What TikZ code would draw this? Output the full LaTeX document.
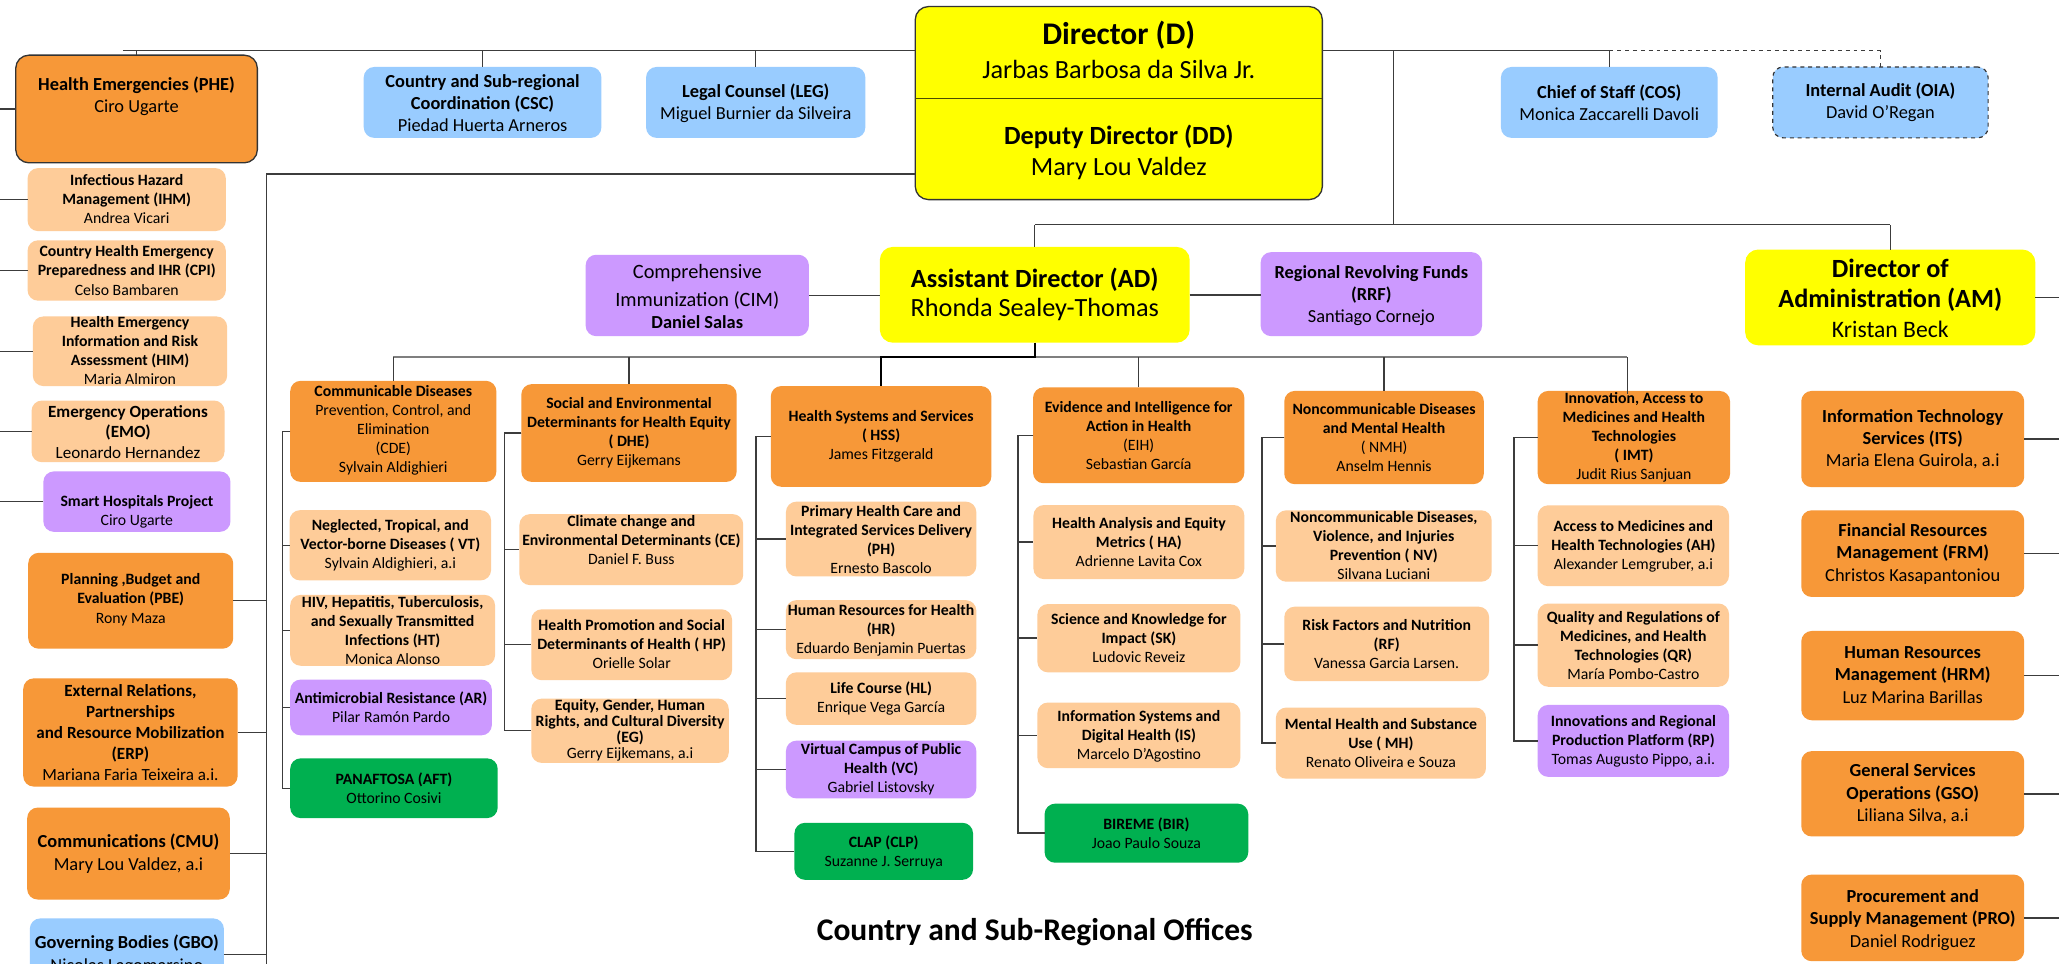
\documentclass[tikz,border=0pt]{standalone}
\usepackage{fontspec}
\setmainfont{Carlito}
\definecolor{orgO}{HTML}{F79838}
\definecolor{orgP}{HTML}{FECC99}
\definecolor{orgB}{HTML}{99CCFF}
\definecolor{orgV}{HTML}{CC99FF}
\definecolor{orgY}{HTML}{FFFF00}
\definecolor{orgG}{HTML}{00B050}
\definecolor{lineC}{HTML}{3C3C3C}
\definecolor{rowC}{HTML}{7F7F7F}
\tikzset{
  box/.style={rectangle, rounded corners=8pt, inner sep=0pt, outer sep=0pt},
  bO/.style={box, fill=orgO},
  bP/.style={box, fill=orgP},
  bB/.style={box, fill=orgB},
  bV/.style={box, fill=orgV},
  bY/.style={box, fill=orgY},
  bG/.style={box, fill=orgG},
  txt/.style={align=center, inner sep=0pt, outer sep=0pt, text=black},
  f12/.style={font=\fontsize{12}{14.5}\selectfont},
  f12t/.style={font=\fontsize{12}{12.2}\selectfont},
  f13/.style={font=\fontsize{13}{15.9}\selectfont},
  f14/.style={font=\fontsize{14}{17}\selectfont},
  ln/.style={draw=lineC, line width=1.1pt},
  rowln/.style={draw=rowC, line width=1.2pt},
  adln/.style={draw=black, line width=1.5pt},
}
% name, box style, font style, x1, y1, x2, y2, text y, text
\newcommand\obox[9]{%
  \pgfmathsetmacro\cxx{(#4+#6)/2}%
  \pgfmathsetmacro\cyy{(#5+#7)/2}%
  \pgfmathsetmacro\bww{#6-#4}%
  \pgfmathsetmacro\bhh{#7-#5}%
  \node[#2, minimum width=\bww pt, minimum height=\bhh pt] (#1) at (\cxx,\cyy) {};
  \node[txt,#3] (#1t) at (\cxx,#8) {#9};
}
\begin{document}
\begin{tikzpicture}[x=1pt,y=-1pt]
\useasboundingbox (0,0) rectangle (1568,734);
\clip (0,0) rectangle (1568,734);
\fill[white] (0,0) rectangle (1568,734);

% ---------- top level ----------
\obox{PHE}{bO,rounded corners=10pt,draw=black!80,line width=1pt}{f14}{12}{42}{196}{124}{73.5}{\textbf{Health Emergencies (PHE)}\\Ciro Ugarte}
\obox{CSC}{bB}{f14}{277}{51}{458}{105}{78.5}{\textbf{Country and Sub-regional}\\\textbf{Coordination (CSC)}\\Piedad Huerta Arneros}
\obox{LEG}{bB}{f14}{492}{51}{659}{105}{78.4}{\textbf{Legal Counsel (LEG)}\\Miguel Burnier da Silveira}
\obox{COS}{bB}{f14}{1143}{51}{1308}{105}{78}{\textbf{Chief of Staff (COS)}\\Monica Zaccarelli Davoli}
\obox{OIA}{bB,draw=black!80,dashed,line width=0.9pt}{f14}{1350}{51}{1514}{105}{78}{\textbf{Internal Audit (OIA)}\\David O’Regan}

\node[bY, rounded corners=10pt, draw=black!80, line width=1pt, minimum width=310pt, minimum height=147pt] (D) at (852,78.5) {};
\coordinate (DV) at (0,75);
\draw[draw=black!70!orgY, line width=1.2pt] (D.west |- DV) -- (D.east |- DV);
\node[txt, font=\fontsize{24}{29}\selectfont\bfseries] (Dt1) at (852,26.7) {Director (D)};
\node[txt, font=\fontsize{20}{24}\selectfont] (Dt2) at (852,53) {Jarbas Barbosa da Silva Jr.};
\node[txt, font=\fontsize{20}{24}\selectfont\bfseries] (Dt3) at (852,104) {Deputy Director (DD)};
\node[txt, font=\fontsize{20}{24}\selectfont] (Dt4) at (852,128) {Mary Lou Valdez};

% ---------- left column ----------
\obox{IHM}{bP}{f12}{21}{128}{172}{176}{151.5}{\textbf{Infectious Hazard}\\\textbf{Management (IHM)}\\Andrea Vicari}
\obox{CPI}{bP}{f12}{21}{183}{172}{229}{206}{\textbf{Country Health Emergency}\\\textbf{Preparedness and IHR (CPI)}\\Celso Bambaren}
\obox{HIM}{bP}{f12}{25}{241}{173}{294}{266.7}{\textbf{Health Emergency}\\\textbf{Information and Risk}\\\textbf{Assessment (HIM)}\\Maria Almiron}
\obox{EMO}{bP}{f13}{24}{305}{171}{352}{329}{\textbf{Emergency Operations}\\\textbf{(EMO)}\\Leonardo Hernandez}
\obox{SMH}{bV}{f12}{33}{359}{175.5}{405}{389.7}{\textbf{Smart Hospitals Project}\\Ciro Ugarte}
\obox{PBE}{bO}{f12}{21.5}{421}{177.6}{494}{456.7}{\textbf{Planning ,Budget and}\\\textbf{Evaluation (PBE)}\\Rony Maza}
\obox{ERP}{bO}{f13}{17.7}{516.6}{181}{599}{558}{\textbf{External Relations,}\\\textbf{Partnerships}\\\textbf{and Resource Mobilization}\\\textbf{(ERP)}\\Mariana Faria Teixeira a.i.}
\obox{CMU}{bO}{f14}{20.7}{615}{175}{685}{650}{\textbf{Communications (CMU)}\\Mary Lou Valdez, a.i}
\obox{GBO}{bB}{f14}{22.7}{699.4}{170.5}{754}{727}{\textbf{Governing Bodies (GBO)}\\Nicolas Lagomarsino}

% ---------- second level ----------
\obox{CIM}{bV}{f14}{446}{194}{616}{256}{226.5}{}
\node[txt, font=\fontsize{15.5}{19}\selectfont] (CIM1) at (531,208) {Comprehensive};
\node[txt, font=\fontsize{15.5}{19}\selectfont] (CIM2) at (531,228.5) {Immunization (CIM)};
\node[txt, font=\fontsize{14}{17}\selectfont\bfseries] (CIM3) at (531,245.5) {Daniel Salas};
\obox{AD}{bY,rounded corners=10pt}{f14}{670}{188}{906}{261}{224.5}{}
\node[txt, font=\fontsize{20}{24}\selectfont\bfseries] (AD1) at (788,212.8) {Assistant Director (AD)};
\node[txt, font=\fontsize{20}{24}\selectfont] (AD2) at (788,236) {Rhonda Sealey-Thomas};
\obox{RRF}{bV}{f14}{960}{192}{1128.6}{256}{225}{\textbf{Regional Revolving Funds}\\\textbf{(RRF)}\\Santiago Cornejo}
\obox{AM}{bY,rounded corners=10pt}{f14}{1329}{190}{1550}{263}{227.5}{}
\node[txt, font=\fontsize{20}{24}\selectfont\bfseries] (AM1) at (1439.5,204) {Director of};
\node[txt, font=\fontsize{20}{24}\selectfont\bfseries] (AM2) at (1439.5,228.5) {Administration (AM)};
\node[txt, font=\fontsize{18}{22}\selectfont] (AM3) at (1439.5,251) {Kristan Beck};

% ---------- CDE column ----------
\obox{CDE}{bO}{f12}{221}{290}{378}{367}{328}{\textbf{Communicable Diseases}\\Prevention, Control, and\\Elimination\\(CDE)\\Sylvain Aldighieri}
\obox{VT}{bP}{f12}{220.5}{388.5}{374}{442}{415.3}{\textbf{Neglected, Tropical, and}\\\textbf{Vector-borne Diseases ( VT)}\\Sylvain Aldighieri, a.i}
\obox{HT}{bP}{f12}{221}{453}{377}{507}{480}{\textbf{HIV, Hepatitis, Tuberculosis,}\\\textbf{and Sexually Transmitted}\\\textbf{Infections (HT)}\\Monica Alonso}
\obox{AR}{bV}{f12}{221}{517.5}{374.6}{560}{538.4}{\textbf{Antimicrobial Resistance (AR)}\\Pilar Ramón Pardo}
\obox{AFT}{bG}{f12}{221}{577.5}{379}{623}{600}{\textbf{PANAFTOSA (AFT)}\\Ottorino Cosivi}

% ---------- DHE column ----------
\obox{DHE}{bO}{f12}{397}{292.5}{561}{367}{329.3}{\textbf{Social and Environmental}\\\textbf{Determinants for Health Equity}\\\textbf{( DHE)}\\Gerry Eijkemans}
\obox{CE}{bP}{f12}{395.6}{391.5}{566}{445.6}{411}{\textbf{Climate change and}\\\textbf{Environmental Determinants (CE)}\\Daniel F. Buss}
\obox{HP}{bP}{f12}{404.6}{464}{557.5}{518}{490.5}{\textbf{Health Promotion and Social}\\\textbf{Determinants of Health ( HP)}\\Orielle Solar}
\obox{EG}{bP}{f12t}{404.6}{532}{555}{581}{556}{\textbf{Equity, Gender, Human}\\\textbf{Rights, and Cultural Diversity}\\\textbf{(EG)}\\Gerry Eijkemans, a.i}

% ---------- HSS column ----------
\obox{HSS}{bO}{f12}{587}{294}{755}{370.7}{332.3}{\textbf{Health Systems and Services}\\\textbf{( HSS)}\\James Fitzgerald}
\obox{PH}{bP}{f12}{598.5}{382}{743.5}{439}{410.7}{\textbf{Primary Health Care and}\\\textbf{Integrated Services Delivery}\\\textbf{(PH)}\\Ernesto Bascolo}
\obox{HR}{bP}{f12}{598.5}{457}{743.5}{502}{480}{\textbf{Human Resources for Health}\\\textbf{(HR)}\\Eduardo Benjamin Puertas}
\obox{HL}{bP}{f12}{598.5}{512}{743.5}{552}{532}{\textbf{Life Course (HL)}\\Enrique Vega García}
\obox{VC}{bV}{f12}{598.5}{564}{743.5}{608}{586}{\textbf{Virtual Campus of Public}\\\textbf{Health (VC)}\\Gabriel Listovsky}
\obox{CLP}{bG}{f12}{605}{626.6}{741}{670}{649}{\textbf{CLAP (CLP)}\\Suzanne J. Serruya}

% ---------- EIH column ----------
\obox{EIH}{bO}{f12}{786.7}{295}{947.6}{368}{331.7}{\textbf{Evidence and Intelligence for}\\\textbf{Action in Health}\\(EIH)\\Sebastian García}
\obox{HA}{bP}{f12}{787}{384.6}{947.6}{441}{413}{\textbf{Health Analysis and Equity}\\\textbf{Metrics ( HA)}\\Adrienne Lavita Cox}
\obox{SK}{bP}{f12}{790}{460}{944.6}{512}{486}{\textbf{Science and Knowledge for}\\\textbf{Impact (SK)}\\Ludovic Reveiz}
\obox{IS}{bP}{f12}{790}{535}{944.6}{585}{560.7}{\textbf{Information Systems and}\\\textbf{Digital Health (IS)}\\Marcelo D’Agostino}
\obox{BIR}{bG}{f12}{795.5}{612}{950.6}{657}{634.8}{\textbf{BIREME (BIR)}\\Joao Paulo Souza}

% ---------- NMH column ----------
\obox{NMH}{bO}{f12}{978}{297.7}{1130}{368.7}{332.9}{\textbf{Noncommunicable Diseases}\\\textbf{and Mental Health}\\( NMH)\\Anselm Hennis}
\obox{NV}{bP}{f12}{971.6}{388.6}{1136}{443}{415.6}{\textbf{Noncommunicable Diseases,}\\\textbf{Violence, and Injuries}\\\textbf{Prevention ( NV)}\\Silvana Luciani}
\obox{RF}{bP}{f12}{978}{462}{1134}{518.6}{490.7}{\textbf{Risk Factors and Nutrition}\\\textbf{(RF)}\\Vanessa Garcia Larsen.}
\obox{MH}{bP}{f12}{971.6}{538.8}{1131.6}{593}{566}{\textbf{Mental Health and Substance}\\\textbf{Use ( MH)}\\Renato Oliveira e Souza}

% ---------- IMT column ----------
\obox{IMT}{bO}{f12}{1171}{297.7}{1317.5}{368.7}{332.8}{\textbf{Innovation, Access to}\\\textbf{Medicines and Health}\\\textbf{Technologies}\\\textbf{( IMT)}\\Judit Rius Sanjuan}
\obox{AH}{bP}{f12}{1171}{384.8}{1316.7}{446.4}{416}{\textbf{Access to Medicines and}\\\textbf{Health Technologies (AH)}\\Alexander Lemgruber, a.i}
\obox{QR}{bP}{f12}{1171}{459.6}{1316.7}{523}{491.7}{\textbf{Quality and Regulations of}\\\textbf{Medicines, and Health}\\\textbf{Technologies (QR)}\\María Pombo-Castro}
\obox{RP}{bV}{f12}{1171}{536.8}{1316.7}{591.6}{564.7}{\textbf{Innovations and Regional}\\\textbf{Production Platform (RP)}\\Tomas Augusto Pippo, a.i.}

% ---------- administration column ----------
\obox{ITS}{bO}{f14}{1371.7}{297.7}{1541.5}{371}{334.4}{\textbf{Information Technology}\\\textbf{Services (ITS)}\\Maria Elena Guirola, a.i}
\obox{FRM}{bO}{f14}{1371.7}{388.6}{1541.5}{454.6}{421.8}{\textbf{Financial Resources}\\\textbf{Management (FRM)}\\Christos Kasapantoniou}
\obox{HRM}{bO}{f14}{1371.7}{480.5}{1541.5}{548.5}{514}{\textbf{Human Resources}\\\textbf{Management (HRM)}\\Luz Marina Barillas}
\obox{GSO}{bO}{f14}{1371.7}{572}{1541.5}{637}{604.5}{\textbf{General Services}\\\textbf{Operations (GSO)}\\Liliana Silva, a.i}
\obox{PRO}{bO}{f14}{1371.7}{666}{1541.5}{732}{700.5}{\textbf{Procurement and}\\\textbf{Supply Management (PRO)}\\Daniel Rodriguez}

\node[txt, font=\fontsize{24}{29}\selectfont\bfseries] (CSRO) at (788,710) {Country and Sub-Regional Offices};

% ---------- connectors ----------
\coordinate (L0) at (0,0);
\coordinate (R0) at (1568,0);
\coordinate (T0) at (93.5,38.5);
\coordinate (LB) at (203,132.5);
\coordinate (BT) at (203,745);
\coordinate (VJ) at (1061,38.5);
\coordinate (HJ) at (1061,171);
\coordinate (RW) at (299.5,272);
\coordinate (IMTt) at ([xshift=-5pt]IMT.north);

\draw[ln] (T0) -- (T0 -| D.west);
\draw[ln] (PHE.north) -- (PHE.north |- T0);
\draw[ln] (CSC.north) -- (CSC.north |- T0);
\draw[ln] (LEG.north) -- (LEG.north |- T0);
\draw[ln] (T0 -| D.east) -- (T0 -| COS.north) -- (COS.north);
\draw[ln,dashed] (T0 -| COS.north) -- (T0 -| OIA.north) -- (OIA.north);
\draw[ln] (VJ) -- (HJ);
\draw[ln] (HJ -| AD.north) -- (HJ -| AM.north);
\draw[ln] (AD.north) -- (AD.north |- HJ);
\draw[ln] (AM.north) -- (AM.north |- HJ);
\draw[ln] (LB -| D.west) -- (LB) -- (BT);
\foreach \c in {PBE,ERP,CMU,GBO} \draw[ln] (\c.east) -- (\c.east -| LB);
\foreach \c in {PHE,IHM,CPI,HIM,EMO,SMH} \draw[ln] (\c.west) -- (\c.west -| L0);
\draw[ln] (CIM.east) -- (CIM.east -| AD.west);
\draw[ln] (AD.east) -- (AD.east -| RRF.west);
\draw[ln] (AM.east) -- (AM.east -| R0);

\draw[rowln] (RW -| CDE.north) -- (RW -| IMTt);
\foreach \c in {CDE,DHE,EIH,NMH} \draw[ln] (\c.north) -- (\c.north |- RW);
\draw[ln] ([yshift=-2pt]IMTt) -- (IMTt |- RW);
\draw[adln] (AD.south) -- (AD.south |- RW) -| (HSS.north);

\foreach \c in {VT,HT,AR,AFT} \draw[ln] (CDE.west) -- ++(-6,0) |- (\c.west);
\foreach \c in {CE,HP,EG} \draw[ln] (DHE.west) -- ++(-13,0) |- (\c.west);
\foreach \c in {PH,HR,HL,VC,CLP} \draw[ln] (HSS.west) -- ++(-11.3,0) |- (\c.west);
\foreach \c in {HA,SK,IS,BIR} \draw[ln] (EIH.west) -- ++(-11.4,0) |- (\c.west);
\foreach \c in {NV,RF,MH} \draw[ln] (NMH.west) -- ++(-17,0) |- (\c.west);
\foreach \c in {AH,QR,RP} \draw[ln] (IMT.west) -- ++(-18,0) |- (\c.west);
\foreach \c in {ITS,FRM,HRM,GSO,PRO} \draw[ln] (\c.east) -- (\c.east -| R0);
\end{tikzpicture}
\end{document}
